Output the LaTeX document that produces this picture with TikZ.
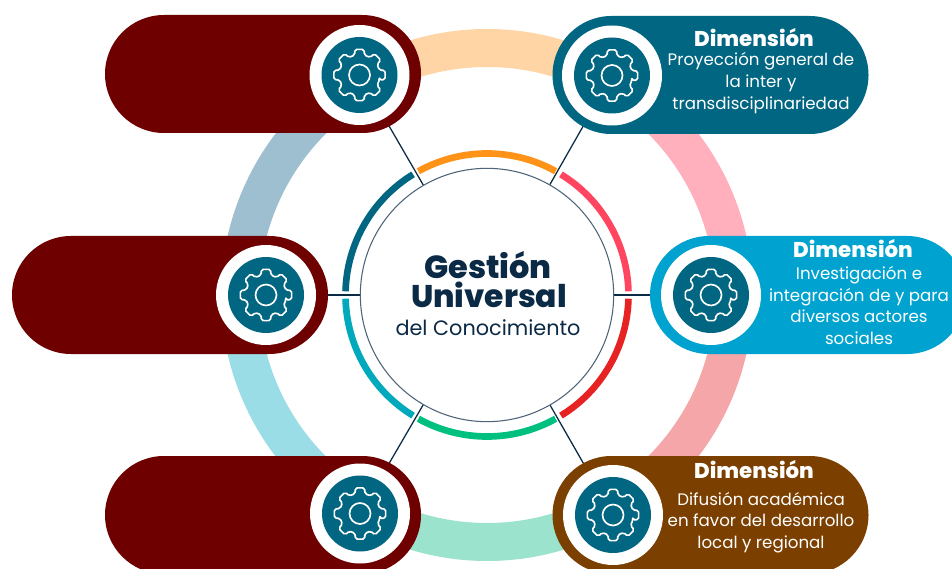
\documentclass[tikz,border=0pt]{standalone}
\usepackage{fontspec}
\setmainfont{Poppins}
\newfontfamily\heavy{Poppins ExtraBold}
\usetikzlibrary{shapes.misc,backgrounds,calc}
\definecolor{navy}{HTML}{0B2A45}
\definecolor{ringline}{HTML}{4F6478}
\definecolor{dred}{HTML}{6E0000}
\definecolor{teal1}{HTML}{006682}
\definecolor{cyan1}{HTML}{00A3CF}
\definecolor{brown1}{HTML}{7B3F00}
\definecolor{bgpink}{HTML}{FFB0BC}
\definecolor{bgpeach}{HTML}{FFD5A6}
\definecolor{bgblue}{HTML}{9DBFCF}
\definecolor{bgcyan}{HTML}{9BDDE6}
\definecolor{bggreen}{HTML}{9BE3CC}
\definecolor{bgsalmon}{HTML}{F4A6A8}
\definecolor{arcpink}{HTML}{FF4560}
\definecolor{arcorange}{HTML}{FF9317}
\definecolor{arcteal}{HTML}{006682}
\definecolor{arccyan}{HTML}{00A9BC}
\definecolor{arcgreen}{HTML}{00C07F}
\definecolor{arcred}{HTML}{E62222}
\tikzset{
  x=.75pt,y=.75pt,
  pill/.style={rounded rectangle,fill=#1,draw=none,minimum width=237pt,minimum height=88.5pt,inner sep=0pt},
  halo/.style={circle,fill=white,draw=none,minimum size=75pt,inner sep=0pt},
  disc/.style={circle,fill=teal1,draw=none,minimum size=57pt,inner sep=0pt},
  link/.style={draw=navy,line width=.95pt},
  bigring/.style={line width=28.5pt,draw=#1,line cap=butt},
  smallring/.style={line width=5pt,draw=#1,line cap=butt},
  head/.style={text=white,font=\fontsize{16}{18}\selectfont\heavy,inner sep=0pt},
  body/.style={text=white,align=center,font=\fontsize{12.5}{16.3}\selectfont,inner sep=0pt},
  gearline/.style={draw=white,line width=1.25pt,rounded corners=1.3pt,line join=round},
}
\newcommand{\gearat}[1]{%
  \draw[gearline] ($(#1)+(-14:20.5)$)
    \foreach \a in {0,45,...,315}{
      -- ($(#1)+(\a-10:26)$)
      -- ($(#1)+(\a+10:26)$) -- ($(#1)+(\a+14:20.5)$)
      -- ($(#1)+(\a+31:20.5)$)
    } -- cycle;
  \draw[draw=white,line width=1.25pt] (#1) circle[radius=10.5];
}
\newcommand{\bigarc}[3]{\draw[bigring=#3] (c) ++(#1:247) arc[start angle=#1,end angle=#2,radius=247];}
\newcommand{\smallarc}[3]{\draw[smallring=#3] (c) ++(#1:141.5) arc[start angle=#1,end angle=#2,radius=141.5];}
\begin{document}
\begin{tikzpicture}
\useasboundingbox (0,0) rectangle (952,568);
\clip (0,0) rectangle (952,568);
% centre
\node[circle,draw=ringline,line width=.8pt,fill=white,minimum size=190pt,inner sep=0pt] (c) at (487,273) {};
\node[anchor=base,text=navy,font=\fontsize{24}{24}\selectfont\heavy,inner sep=0pt] (t1) at (488,289) {Gestión};
\node[anchor=base,text=navy,font=\fontsize{23.5}{24}\selectfont\heavy,inner sep=0pt] (t2) at (489,261) {Universal};
\node[anchor=base,text=navy,font=\fontsize{15.6}{16}\selectfont,inner sep=0pt] (t3) at (488,233) {del Conocimiento};
% pills
\node[pill=dred] (ptl) at (263,494) {};
\node[pill=teal1] (ptr) at (710.5,493) {};
\node[pill=dred] (pml) at (170,273) {};
\node[pill=cyan1] (pmr) at (808,273) {};
\node[pill=dred] (pbl) at (263,53) {};
\node[pill=brown1] (pbr) at (710.5,53) {};
% halos
\node[halo] (htl) at (359.5,493) {};
\node[halo] (htr) at (612,492.5) {};
\node[halo] (hml) at (266,273) {};
\node[halo] (hmr) at (711,273) {};
\node[halo] (hbl) at (360,54.5) {};
\node[halo] (hbr) at (613,53) {};
% discs and gears
\node[disc] (dtl) at (htl) {}; \gearat{dtl}
\node[disc] (dtr) at (htr) {}; \gearat{dtr}
\node[disc] (dml) at (hml) {}; \gearat{dml}
\node[disc] (dmr) at (hmr) {}; \gearat{dmr}
\node[disc] (dbl) at (hbl) {}; \gearat{dbl}
\node[disc] (dbr) at (hbr) {}; \gearat{dbr}
% background rings and connectors
\begin{scope}[on background layer]
  \fill[white] (0,0) rectangle (952,568);
  \bigarc{0}{60}{bgpink}
  \bigarc{60}{120}{bgpeach}
  \bigarc{120}{180}{bgblue}
  \bigarc{180}{240}{bgcyan}
  \bigarc{240}{300}{bggreen}
  \bigarc{300}{360}{bgsalmon}
  \smallarc{1.5}{58.5}{arcpink}
  \smallarc{61}{119}{arcorange}
  \smallarc{121.5}{178.5}{arcteal}
  \smallarc{181.5}{238.5}{arccyan}
  \smallarc{241}{299}{arcgreen}
  \smallarc{301.5}{358.5}{arcred}
  \draw[link] (c) -- (htl);
  \draw[link] (c) -- (htr);
  \draw[link] (c) -- (hml);
  \draw[link] (c) -- (hmr);
  \draw[link] (c) -- (hbl);
  \draw[link] (c) -- (hbr);
\end{scope}
% labels
\node[head] (a1) at (754,530) {Dimensión};
\node[body] (a2) at (761,485) {Proyección general de\\la inter y\\transdisciplinariedad};
\node[head] (b1) at (853,319) {Dimensión};
\node[body] (b2) at (859,262.5) {Investigación e\\integración de y para\\diversos actores\\sociales};
\node[head] (e1) at (754,98) {Dimensión};
\node[body] (e2) at (761,45.5) {Difusión académica\\en favor del desarrollo\\local y regional};
\end{tikzpicture}
\end{document}
